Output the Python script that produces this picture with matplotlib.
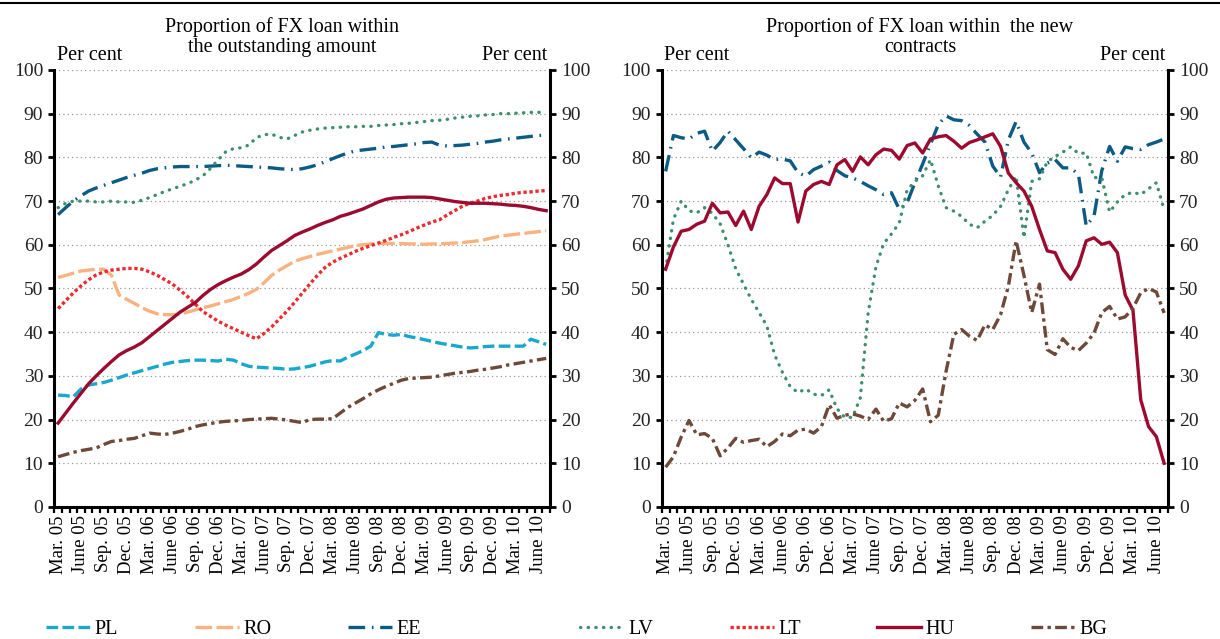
import matplotlib as mpl
mpl.use('Agg')
import matplotlib.pyplot as plt
from matplotlib.lines import Line2D
import numpy as np

plt.rcParams['font.family'] = ['Liberation Serif', 'DejaVu Serif']

# monthly, Mar. 2005 - July 2010
tick_labels = ['Mar. 05', 'June 05', 'Sep. 05', 'Dec. 05', 'Mar. 06', 'June 06', 'Sep. 06',
               'Dec. 06', 'Mar. 07', 'June 07', 'Sep. 07', 'Dec. 07', 'Mar. 08', 'June 08',
               'Sep. 08', 'Dec. 08', 'Mar. 09', 'June 09', 'Sep. 09', 'Dec. 09', 'Mar. 10',
               'June 10']

# outstanding amount
pl_out = [25.6, 25.5, 25.2, 27.0, 27.9, 28.2, 28.5, 29.0, 29.6, 30.2, 30.7, 31.2, 31.7, 32.2,
          32.7, 33.1, 33.3, 33.5, 33.6, 33.6, 33.5, 33.4, 33.8, 33.6, 32.8, 32.2, 32.0, 31.9,
          31.8, 31.7, 31.5, 31.6, 31.9, 32.2, 32.7, 33.2, 33.5, 33.4, 34.3, 35.0, 35.8, 36.8,
          39.9, 39.5, 39.3, 39.5, 39.0, 38.7, 38.3, 37.9, 37.5, 37.2, 36.9, 36.6, 36.4, 36.5,
          36.7, 36.8, 36.8, 36.8, 36.8, 36.8, 38.4, 37.8, 37.2]
ro_out = [52.5, 53.0, 53.5, 54.0, 54.2, 54.4, 54.4, 53.0, 48.5, 47.5, 46.6, 45.6, 44.8, 44.2,
          44.0, 44.0, 44.1, 44.6, 45.1, 45.6, 46.0, 46.5, 47.0, 47.5, 48.2, 48.9, 49.8, 51.3,
          53.0, 54.2, 55.2, 56.2, 56.8, 57.3, 57.8, 58.2, 58.6, 59.0, 59.4, 59.8, 60.0, 60.2,
          60.3, 60.3, 60.3, 60.3, 60.2, 60.2, 60.1, 60.2, 60.2, 60.3, 60.4, 60.5, 60.7, 60.9,
          61.2, 61.6, 62.0, 62.2, 62.4, 62.6, 62.8, 63.0, 63.2]
ee_out = [66.9, 68.5, 70.0, 71.2, 72.3, 73.0, 73.6, 74.2, 74.8, 75.4, 75.9, 76.4, 77.0, 77.4,
          77.6, 77.8, 77.9, 77.9, 77.9, 77.9, 78.0, 78.1, 78.2, 78.1, 78.0, 77.9, 77.8, 77.7,
          77.6, 77.4, 77.3, 77.2, 77.4, 77.8, 78.3, 79.0, 79.7, 80.4, 81.0, 81.5, 81.7, 81.9,
          82.1, 82.4, 82.5, 82.7, 82.9, 83.1, 83.4, 83.5, 82.8, 82.6, 82.7, 82.8, 83.0, 83.2,
          83.5, 83.7, 84.0, 84.2, 84.4, 84.6, 84.8, 85.0, 85.1]
lv_out = [68.5, 69.5, 70.0, 70.0, 70.0, 69.8, 69.8, 70.0, 69.8, 69.8, 69.7, 70.2, 70.8, 71.5,
          72.2, 72.8, 73.4, 74.0, 74.8, 75.8, 77.5, 79.5, 81.3, 82.0, 82.2, 82.8, 84.5, 85.2,
          85.3, 84.6, 84.2, 85.0, 85.8, 86.2, 86.5, 86.7, 86.8, 86.9, 87.0, 87.0, 87.1, 87.1,
          87.3, 87.4, 87.5, 87.7, 87.8, 88.0, 88.2, 88.4, 88.5, 88.7, 89.0, 89.2, 89.4, 89.5,
          89.7, 89.8, 90.0, 90.0, 90.1, 90.2, 90.3, 90.3, 90.4]
lt_out = [45.4, 47.2, 49.0, 50.6, 52.0, 53.1, 53.8, 54.2, 54.4, 54.6, 54.6, 54.4, 53.8, 53.0,
          52.0, 51.0, 49.6, 48.1, 46.4, 44.7, 43.6, 42.5, 41.6, 40.8, 40.0, 39.2, 38.5, 39.7,
          41.2, 43.0, 44.8, 46.8, 48.9, 51.0, 53.0, 54.8, 56.0, 56.9, 57.7, 58.5, 59.2, 59.8,
          60.4, 61.0, 61.7, 62.3, 63.0, 63.8, 64.5, 65.2, 65.7, 66.8, 67.8, 68.8, 69.5, 70.0,
          70.6, 71.0, 71.3, 71.5, 71.8, 72.0, 72.1, 72.3, 72.4]
hu_out = [19.2, 21.5, 23.8, 26.0, 28.2, 30.0, 31.7, 33.3, 34.8, 35.8, 36.6, 37.6, 39.0, 40.4,
          41.8, 43.2, 44.6, 45.7, 46.8, 48.4, 49.8, 50.9, 51.8, 52.6, 53.3, 54.3, 55.6, 57.2,
          58.7, 59.8, 60.9, 62.1, 62.9, 63.6, 64.4, 65.1, 65.7, 66.5, 67.0, 67.6, 68.2, 69.0,
          69.8, 70.4, 70.7, 70.8, 70.9, 70.9, 70.9, 70.8, 70.5, 70.2, 69.9, 69.7, 69.5, 69.5,
          69.5, 69.4, 69.3, 69.1, 69.0, 68.8, 68.5, 68.1, 67.8]
bg_out = [11.5, 12.0, 12.5, 12.9, 13.2, 13.5, 14.3, 15.0, 15.2, 15.5, 15.7, 16.3, 16.9, 16.7,
          16.6, 16.9, 17.3, 17.8, 18.4, 18.8, 19.1, 19.4, 19.6, 19.7, 19.8, 20.0, 20.1, 20.2,
          20.3, 20.1, 19.9, 19.6, 19.3, 20.0, 20.1, 20.1, 20.2, 21.5, 22.8, 23.8, 24.8, 25.9,
          26.8, 27.6, 28.3, 29.0, 29.4, 29.5, 29.6, 29.7, 30.0, 30.3, 30.6, 30.8, 31.0, 31.3,
          31.5, 31.8, 32.1, 32.5, 32.8, 33.1, 33.4, 33.7, 34.0]

# new contracts
ee_new = [76.8, 85.0, 84.5, 84.2, 85.5, 86.0, 81.4, 83.4, 86.0, 84.0, 82.0, 79.9, 81.2, 80.5,
          79.5, 79.6, 79.2, 76.5, 75.7, 77.2, 78.0, 78.9, 77.0, 75.8, 75.3, 74.5, 73.5, 72.6,
          71.5, 71.9, 68.1, 69.6, 74.2, 78.5, 83.0, 87.5, 89.5, 88.6, 88.4, 87.3, 85.3, 83.5,
          78.0, 75.5, 84.0, 88.2, 83.5, 81.0, 76.5, 78.7, 79.5, 77.6, 77.6, 76.1, 64.3, 66.6,
          77.0, 82.5, 79.1, 82.4, 82.0, 81.8, 82.9, 83.5, 84.2]
lv_new = [54.5, 65.8, 70.0, 67.8, 67.3, 68.5, 67.2, 64.8, 60.0, 54.5, 51.0, 47.5, 44.5, 41.4,
          34.8, 30.8, 27.5, 26.2, 27.0, 25.8, 25.5, 26.8, 22.5, 20.5, 20.5, 25.0, 44.4, 55.0,
          60.3, 62.5, 65.0, 72.5, 74.5, 75.8, 79.5, 73.5, 68.5, 67.7, 66.5, 64.7, 63.9, 65.4,
          66.7, 68.8, 72.6, 75.7, 61.6, 74.5, 75.1, 79.0, 80.2, 81.2, 82.4, 80.9, 81.0, 75.4,
          75.3, 67.5, 69.8, 71.5, 72.0, 71.5, 72.8, 74.2, 68.0]
hu_new = [54.4, 59.5, 63.1, 63.5, 64.7, 65.4, 69.5, 67.3, 67.5, 64.4, 67.7, 63.5, 68.8, 71.5,
          75.3, 74.0, 74.0, 65.2, 72.3, 73.8, 74.5, 73.8, 78.3, 79.5, 76.8, 80.1, 78.3, 80.6,
          81.9, 81.6, 79.6, 82.7, 83.3, 81.0, 84.2, 84.7, 85.0, 83.7, 82.1, 83.4, 84.0, 84.7,
          85.4, 82.5, 76.4, 74.2, 72.3, 68.8, 63.5, 58.6, 58.2, 54.4, 52.1, 55.2, 60.9, 61.6,
          60.1, 60.6, 58.2, 48.5, 45.0, 24.5, 18.4, 16.1, 10.0]
bg_new = [9.1, 11.5, 16.0, 19.8, 16.5, 16.8, 15.7, 11.7, 13.5, 15.7, 14.8, 15.2, 15.5, 13.8,
          15.0, 16.7, 16.3, 17.6, 17.8, 16.9, 18.4, 23.4, 20.3, 21.0, 21.3, 20.8, 20.0, 22.4,
          19.6, 20.2, 23.8, 22.9, 24.4, 27.0, 19.5, 21.0, 31.0, 39.5, 40.6, 39.1, 38.1, 41.7,
          40.6, 44.0, 50.5, 60.9, 53.0, 44.5, 51.0, 36.0, 34.9, 38.5, 36.5, 35.8, 37.5, 39.8,
          44.5, 45.9, 43.0, 43.5, 45.5, 49.0, 50.0, 49.2, 44.4]

styles = {
    'PL': dict(color='#1aa7cf', ls=(0, (3.5, 1.3))),
    'RO': dict(color='#fbb27f', ls=(0, (5, 1.3))),
    'EE': dict(color='#0b5b84', ls=(0, (5, 2, 0.5, 2))),
    'LV': dict(color='#3d8f6c', ls=(0, (0.1, 2.2)), dash_capstyle='round'),
    'LT': dict(color='#ee2a2e', ls=(0, (1, 0.8))),
    'HU': dict(color='#9c0a30', ls='-'),
    'BG': dict(color='#6e4838', ls=(0, (3.5, 1.3, 1, 1.3))),
}

x = np.arange(len(hu_out))

fig = plt.figure(figsize=(12.2, 6.39), dpi=100)
ax1 = fig.add_axes([0.0445, 0.2066, 0.4063, 0.6839])
ax2 = fig.add_axes([0.5424, 0.2066, 0.4150, 0.6839])

series_out = [('PL', pl_out), ('RO', ro_out), ('EE', ee_out), ('LV', lv_out),
              ('LT', lt_out), ('HU', hu_out), ('BG', bg_out)]
series_new = [('EE', ee_new), ('LV', lv_new), ('HU', hu_new), ('BG', bg_new)]

for ax, series in [(ax1, series_out), (ax2, series_new)]:
    for name, vals in series:
        ax.plot(x, vals, lw=2.4, label=name, **styles[name])
    ax.set_xlim(-0.5, 64.5)
    ax.set_ylim(0, 100)
    ax.set_yticks(range(0, 101, 10))
    ax.yaxis.grid(True, color='#9a9a9a', ls=(0, (1, 2.5)), lw=0.9)
    ax.set_axisbelow(True)
    ax.spines['top'].set_visible(False)
    for s in ['left', 'right', 'bottom']:
        ax.spines[s].set_linewidth(2.2)
    ax.set_xticks(np.arange(0, 64, 3))
    ax.set_xticklabels(tick_labels, rotation=90, fontsize=13.5)
    ax.set_xticks(np.arange(-0.5, 65, 1), minor=True)
    ax.tick_params(axis='x', which='major', length=0, pad=6)
    ax.tick_params(axis='x', which='minor', length=4, width=1.6, direction='out')
    ax.tick_params(axis='y', which='major', length=4, width=2, direction='out',
                   labelsize=14, labelright=True, right=True, pad=4, labelcolor='#222222')
    ax.text(0.005, 1.012, 'Per cent', transform=ax.transAxes, ha='left', va='bottom',
            fontsize=14.5)
    ax.text(0.995, 1.012, 'Per cent', transform=ax.transAxes, ha='right', va='bottom',
            fontsize=14.5)

fig.text(282 / 1220, 1 - 37 / 639, 'Proportion of FX loan within\nthe outstanding amount',
         ha='center', va='center', fontsize=14.5, linespacing=1.05)
fig.text(920 / 1220, 1 - 37 / 639, 'Proportion of FX loan within  the new\ncontracts',
         ha='center', va='center', fontsize=14.5, linespacing=1.05)

# top border line
fig.add_artist(Line2D([0, 1], [1 - 3 / 639, 1 - 3 / 639], color='black', lw=1.5,
                      transform=fig.transFigure))

handles, labels = ax1.get_legend_handles_labels()
leg_kw = dict(loc='lower left', mode='expand', frameon=False, fontsize=14.5,
              handlelength=2.2, handletextpad=0.2, borderpad=0.0, borderaxespad=0.0)
fig.legend(handles[:3], labels[:3], ncol=3,
           bbox_to_anchor=(46 / 1220, 0.0, 375 / 1220, 0.03), **leg_kw)
fig.legend(handles[3:], labels[3:], ncol=4,
           bbox_to_anchor=(580 / 1220, 0.0, 527 / 1220, 0.03), **leg_kw)

plt.savefig('out.png')
plt.close()
